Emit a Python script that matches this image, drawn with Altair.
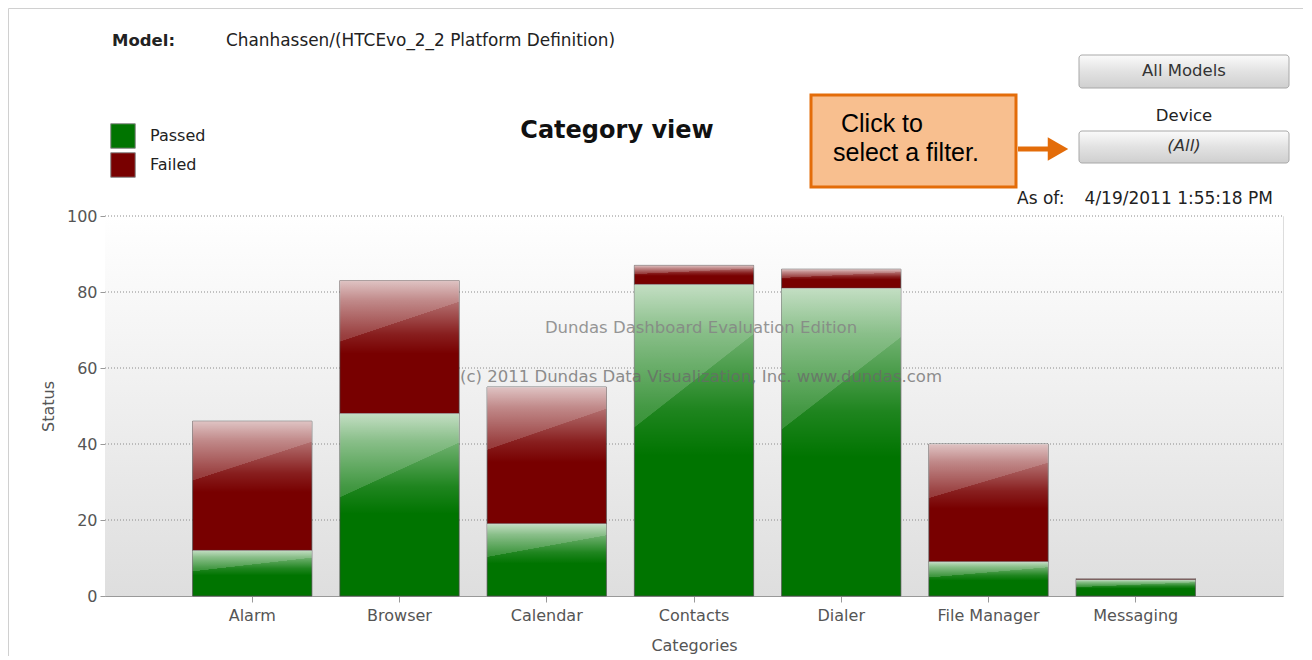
import altair as alt
import pandas as pd

categories = ["Alarm", "Browser", "Calendar", "Contacts", "Dialer", "File Manager", "Messaging"]
passed = [12, 48, 19, 82, 81, 9, 4.3]
failed = [34, 35, 36, 5, 5, 31, 0.3]
series = ["Passed", "Failed"]
colors = ["#007400", "#780000"]
y_ticks = [0, 20, 40, 60, 80, 100]

rows = []
for c, p, f in zip(categories, passed, failed):
    rows.append({"category": c, "series": "Passed", "value": p, "ord": 0})
    rows.append({"category": c, "series": "Failed", "value": f, "ord": 1})
df = pd.DataFrame(rows)
grid_df = pd.DataFrame({"tick": y_ticks[1:]})

FONT = "DejaVu Sans"
OX, OY = 105, 216  # page position of plot origin


def X(px):
    return alt.value(px - OX)


def Y(py):
    return alt.value(py - OY)


one = alt.Data(values=[{}])

y_scale = alt.Scale(domain=[0, 100], nice=False)

x_enc = alt.X(
    "category:N",
    sort=categories,
    scale=alt.Scale(paddingInner=0.19, paddingOuter=0.595),
    axis=alt.Axis(
        title="Categories", labelAngle=0, labelFontSize=16, labelColor="#555",
        titleFontSize=16, titleColor="#555", titleFontWeight="normal",
        tickSize=6, tickColor="#999", domainColor="#999", labelPadding=5,
        titlePadding=14, grid=False, labelFont=FONT, titleFont=FONT,
    ),
)
y_enc = alt.Y(
    "value:Q",
    stack="zero",
    scale=y_scale,
    axis=alt.Axis(
        title="Status", values=y_ticks, labelFontSize=16, labelColor="#555",
        titleFontSize=16, titleColor="#555", titleFontWeight="normal",
        tickSize=5, tickColor="#999", domainColor="#999", labelPadding=3,
        titlePadding=10, grid=False, labelFont=FONT, titleFont=FONT,
    ),
)
order_enc = alt.Order("ord:Q", sort="ascending")

background = alt.Chart(one).mark_rect(
    fill=alt.LinearGradient(
        gradient="linear", x1=0, y1=0, x2=0, y2=1,
        stops=[alt.GradientStop(color="#ffffff", offset=0),
               alt.GradientStop(color="#dedede", offset=1)],
    ),
).encode(x=alt.value(0), x2=alt.value("width"), y=alt.value(0), y2=alt.value("height"))

grid = alt.Chart(grid_df).mark_rule(color="#8a8a8a", strokeDash=[1, 2], strokeWidth=1).encode(
    y=alt.Y("tick:Q", scale=y_scale), x=alt.value(0), x2=alt.value("width"))

bars = alt.Chart(df).mark_bar(stroke="#4a4a4a", strokeWidth=1, strokeOpacity=0.7).encode(
    x=x_enc,
    y=y_enc,
    color=alt.Color(
        "series:N",
        scale=alt.Scale(domain=series, range=colors),
        legend=alt.Legend(
            orient="none", legendX=5, legendY=-93, title=None, symbolType="square",
            symbolSize=600, labelFontSize=16, labelFont=FONT, labelColor="#222",
            rowPadding=-1, symbolStrokeColor="#888", symbolStrokeWidth=1,
            labelOffset=14, padding=0, symbolOpacity=1,
        ),
    ),
    order=order_enc,
)

shine = alt.Chart(df).mark_bar(
    fill=alt.LinearGradient(
        gradient="linear", x1=0, y1=0, x2=0, y2=1,
        stops=[
            alt.GradientStop(color="rgba(255,255,255,0.72)", offset=0),
            alt.GradientStop(color="rgba(255,255,255,0.45)", offset=0.15),
            alt.GradientStop(color="rgba(255,255,255,0.12)", offset=0.4),
            alt.GradientStop(color="rgba(255,255,255,0)", offset=0.55),
        ],
    ),
    strokeWidth=0,
).encode(x=alt.X("category:N", sort=categories), y=alt.Y("value:Q", stack="zero"),
         detail="series:N", order=order_enc)

gloss = alt.Chart(df).mark_bar(
    fill=alt.LinearGradient(
        gradient="linear", x1=0, y1=0, x2=0.3, y2=1,
        stops=[
            alt.GradientStop(color="rgba(255,255,255,0.16)", offset=0),
            alt.GradientStop(color="rgba(255,255,255,0.16)", offset=0.42),
            alt.GradientStop(color="rgba(255,255,255,0)", offset=0.422),
            alt.GradientStop(color="rgba(255,255,255,0)", offset=1),
        ],
    ),
    strokeWidth=0,
).encode(x=alt.X("category:N", sort=categories), y=alt.Y("value:Q", stack="zero"),
         detail="series:N", order=order_enc)


def txt(s, px, py, size=16.5, align="left", color="#222", weight="normal",
        font=FONT, style="normal", opacity=1.0):
    return alt.Chart(one).mark_text(
        text=s, fontSize=size, align=align, baseline="middle", color=color,
        fontWeight=weight, font=font, fontStyle=style, opacity=opacity,
    ).encode(x=X(px), y=Y(py))


def rect(x0, y0, x1, y1, **kw):
    return alt.Chart(one).mark_rect(**kw).encode(x=X(x0), x2=X(x1), y=Y(y0), y2=Y(y1))


button_fill = alt.LinearGradient(
    gradient="linear", x1=0, y1=0, x2=0, y2=1,
    stops=[
        alt.GradientStop(color="#fbfbfb", offset=0),
        alt.GradientStop(color="#e2e2e2", offset=0.5),
        alt.GradientStop(color="#cfcfcf", offset=1),
    ],
)

decor = [
    # outer frame
    alt.Chart(one).mark_rule(color="#d0d0d0", strokeWidth=1).encode(
        x=X(8.5), x2=X(1312), y=Y(8.5)),
    alt.Chart(one).mark_rule(color="#d0d0d0", strokeWidth=1).encode(
        x=X(8.5), y=Y(8.5), y2=Y(660)),
    txt("Model:", 112, 41, weight="bold"),
    txt("Chanhassen/(HTCEvo_2_2 Platform Definition)", 226, 41, size=16.9),
    txt("Category view", 617, 131, size=24, align="center", weight="bold", color="#111"),
    # buttons
    rect(1079, 55, 1289, 88, fill=button_fill, stroke="#a8a8a8", strokeWidth=1, cornerRadius=3),
    txt("All Models", 1184, 71, align="center", color="#333"),
    txt("Device", 1184, 116, align="center", color="#222"),
    rect(1079, 131, 1289, 163, fill=button_fill, stroke="#a8a8a8", strokeWidth=1, cornerRadius=3),
    txt("(All)", 1184, 146, align="center", color="#333", style="italic"),
    txt("As of:", 1017, 199, size=17, color="#222"),
    txt("4/19/2011 1:55:18 PM", 1273, 199, size=17, align="right", color="#222"),
    # callout
    rect(811, 95, 1016, 187, fill="#f8bf8f", stroke="#e36c09", strokeWidth=3),
    txt("Click to", 841, 124, size=25, font="Liberation Sans", color="#000"),
    txt("select a filter.", 833, 153, size=25, font="Liberation Sans", color="#000"),
    alt.Chart(one).mark_rule(color="#e36c09", strokeWidth=5).encode(
        x=X(1018), x2=X(1050), y=Y(149)),
    alt.Chart(one).mark_point(shape="triangle-right", filled=True, size=560,
                              color="#e36c09", opacity=1).encode(x=X(1058), y=Y(149)),
    # watermark
    txt("Dundas Dashboard Evaluation Edition", 701, 328, align="center", color="#858585", opacity=0.85),
    txt("(c) 2011 Dundas Data Visualization, Inc. www.dundas.com", 701, 377, align="center", color="#6a6a6a", opacity=0.75),
]

chart = alt.layer(background, grid, bars, shine, gloss, *decor).properties(
    width=1178,
    height=380,
    autosize=alt.AutoSizeParams(type="none"),
    padding={"left": 97, "top": 208, "right": 20, "bottom": 60},
).configure_view(
    stroke=None,
).configure(background="white")

chart.save("out.html", embed_options={"renderer": "svg", "actions": False})
